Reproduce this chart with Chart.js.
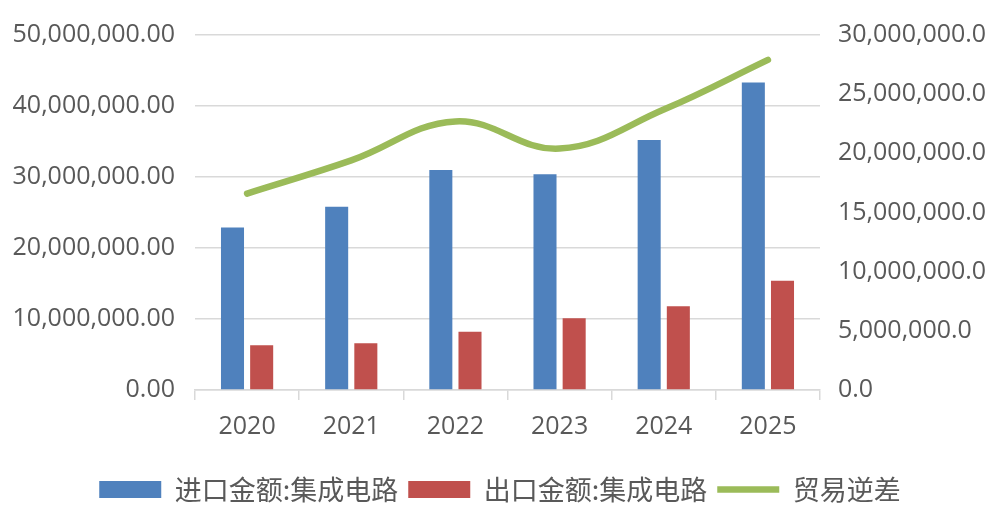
<!DOCTYPE html>
<html>
<head>
<meta charset="utf-8">
<script src="https://cdn.jsdelivr.net/npm/chart.js@4/dist/chart.umd.min.js"></script>
<style>
  html, body { margin: 0; padding: 0; background: #ffffff; }
  #wrap { width: 1000px; height: 517px; position: relative; }
</style>
</head>
<body>
<div id="wrap"><canvas id="chart"></canvas></div>
<script>
// Chart data
const years = ['2020', '2021', '2022', '2023', '2024', '2025'];
const importValues = [22900000, 25800000, 31000000, 30400000, 35200000, 43300000];
const exportValues = [6300000, 6600000, 8200000, 10100000, 11800000, 15400000];
const deficitValues = [16600000, 19400000, 22700000, 20400000, 23700000, 27900000];
const seriesNames = ['进口金额:集成电路', '出口金额:集成电路', '贸易逆差'];

// Colors: import, export, deficit
const seriesColors = ['#4f81bd', '#c0504d', '#9bbb59'];
const textColor = '#595959';
const gridColor = '#d9d9d9';
const tickFont = { family: '"Open Sans", sans-serif', size: 25 };

function fmt(value, digits) {
    return Number(value).toLocaleString('en-US', {
        minimumFractionDigits: digits,
        maximumFractionDigits: digits
    });
}

const ctx = document.getElementById('chart').getContext('2d');

new Chart(ctx, {
    data: {
        labels: years,
        datasets: [{
            type: 'bar',
            label: seriesNames[0],
            data: importValues,
            backgroundColor: seriesColors[0],
            borderWidth: 0,
            yAxisID: 'y',
            categoryPercentage: 0.56,
            barPercentage: 0.79
        }, {
            type: 'bar',
            label: seriesNames[1],
            data: exportValues,
            backgroundColor: seriesColors[1],
            borderWidth: 0,
            yAxisID: 'y',
            categoryPercentage: 0.56,
            barPercentage: 0.79
        }, {
            type: 'line',
            label: seriesNames[2],
            data: deficitValues,
            borderColor: seriesColors[2],
            backgroundColor: seriesColors[2],
            borderWidth: 6.5,
            borderCapStyle: 'round',
            tension: 0.4,
            pointRadius: 0,
            fill: false,
            yAxisID: 'y1'
        }]
    },
    options: {
        responsive: true,
        maintainAspectRatio: false,
        animation: false,
        layout: {
            padding: { left: 0, right: 0, top: 16, bottom: 4 }
        },
        plugins: {
            tooltip: { enabled: false },
            legend: {
                position: 'bottom',
                labels: {
                    color: textColor,
                    font: { family: '"Noto Sans CJK SC", "Noto Sans", sans-serif', size: 27 },
                    usePointStyle: true,
                    pointStyleWidth: 62,
                    boxHeight: 17,
                    padding: 10,
                    generateLabels: function(chart) {
                        const items = Chart.defaults.plugins.legend.labels.generateLabels(chart);
                        items.forEach(function(item) {
                            item.pointStyle = item.datasetIndex === 2 ? 'line' : 'rect';
                            if (item.datasetIndex !== 2) item.lineWidth = 0;
                        });
                        return items;
                    }
                }
            }
        },
        scales: {
            x: {
                offset: true,
                grid: {
                    offset: true,
                    drawOnChartArea: false,
                    drawTicks: true,
                    tickLength: 10,
                    color: gridColor,
                    lineWidth: 1.5
                },
                border: { color: gridColor, width: 1.5 },
                ticks: {
                    color: textColor,
                    font: tickFont,
                    padding: 12,
                    maxRotation: 0
                },
                afterFit: function(scale) { scale.height = 76; }
            },
            y: {
                position: 'left',
                min: 0,
                max: 50000000,
                grid: { color: gridColor, lineWidth: 1.5, drawTicks: false },
                border: { display: false },
                ticks: {
                    stepSize: 10000000,
                    color: textColor,
                    font: tickFont,
                    padding: 20,
                    callback: function(value) { return fmt(value, 2); }
                },
                afterFit: function(scale) { scale.width = 195; }
            },
            y1: {
                position: 'right',
                min: 0,
                max: 30000000,
                grid: { display: false, drawTicks: false },
                border: { display: false },
                ticks: {
                    stepSize: 5000000,
                    color: textColor,
                    font: tickFont,
                    padding: 18,
                    callback: function(value) { return fmt(value, 1); }
                },
                afterFit: function(scale) { scale.width = 180; }
            }
        }
    }
});
</script>
</body>
</html>
